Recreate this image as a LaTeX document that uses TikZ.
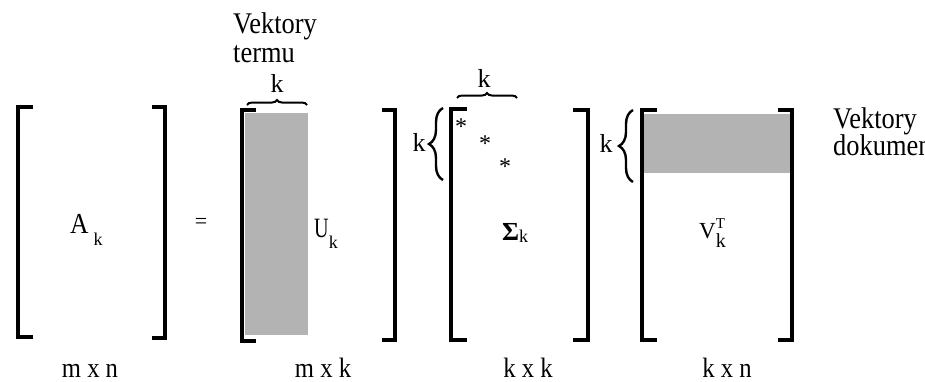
\documentclass[tikz,border=0pt]{standalone}
\usepackage{fontspec}
\setmainfont{Liberation Serif}
\usepackage{graphicx}
\usetikzlibrary{decorations.pathreplacing}
\definecolor{matgray}{RGB}{179,179,179}
\newcommand{\hz}[1]{\scalebox{0.88}[1]{#1}}
\begin{document}
\begin{tikzpicture}[x=1pt,y=-1pt,
  brk/.style={line width=4.5pt, line join=miter, line cap=butt},
  shadebox/.style={fill=matgray, draw=none},
  lbl/.style={inner sep=0pt, anchor=base, text depth=0pt, font=\fontsize{28}{30}\selectfont},
  toplbl/.style={inner sep=0pt, anchor=base west, text height=19pt, text depth=6pt, font=\fontsize{30}{32}\selectfont},
  klbl/.style={inner sep=0pt, anchor=base, font=\fontsize{26}{28}\selectfont},
  starlbl/.style={inner sep=0pt, anchor=base, font=\fontsize{24}{26}\selectfont},
  matlbl/.style={inner sep=0pt, anchor=base west},
  hbrace/.style={decorate, decoration={brace, amplitude=5pt}, line width=2pt},
  vbrace/.style={decorate, decoration={brace, amplitude=14pt}, line width=2.4pt},
]
\useasboundingbox (0,0) rectangle (925,381);
\clip (0,0) rectangle (925,381);

% shaded parts
\fill[shadebox] (245,113) rectangle (308,335);
\fill[shadebox] (644,114) rectangle (790,173);

% brackets: A_k
\draw[brk] (33,107) -- (18,107) -- (18,337) -- (33,337);
\draw[brk] (152,107) -- (165,107) -- (165,338) -- (152,338);
% U_k
\draw[brk] (256,110) -- (242,110) -- (242,341) -- (256,341);
\draw[brk] (382,110) -- (395,110) -- (395,340) -- (382,340);
% Sigma_k
\draw[brk] (467,109) -- (451,109) -- (451,340) -- (467,340);
\draw[brk] (573,110) -- (588,110) -- (588,340) -- (573,340);
% V_k^T
\draw[brk] (657,110) -- (642,110) -- (642,340) -- (657,340);
\draw[brk] (778,110) -- (792,110) -- (792,340) -- (778,340);

% braces
\draw[hbrace] (247,105) -- (307,105);
\draw[hbrace] (457,98) -- (517,98);
\draw[vbrace] (443,180) -- (443,108);
\draw[vbrace] (633,182) -- (633,110);

% k labels
\node[klbl] (k1) at (277,92) {k};
\node[klbl] (k2) at (484,87) {k};
\node[klbl] (k3) at (419,151) {k};
\node[klbl] (k4) at (606,152) {k};

% stars
\node[starlbl] (s1) at (461,134) {*};
\node[starlbl] (s2) at (485,151) {*};
\node[starlbl] (s3) at (505,174) {*};

% matrix labels
\node[matlbl, font=\fontsize{29}{30}\selectfont] (A) at (70,233)
  {\hz{A}\hspace{5pt}\raisebox{-12pt}{\fontsize{18}{18}\selectfont k}};
\node[inner sep=0pt, anchor=base, font=\fontsize{22}{24}\selectfont] (eq) at (201,228.5) {=};
\node[matlbl, font=\fontsize{28}{30}\selectfont] (U) at (314,237)
  {\scalebox{0.72}[1]{U}\raisebox{-11pt}{\fontsize{18}{18}\selectfont k}};
\node[matlbl, font=\fontsize{26}{28}\selectfont\bfseries] (S) at (502,240)
  {Σ\raisebox{-2pt}{\fontsize{18}{18}\selectfont\mdseries k}};
\node[matlbl, font=\fontsize{23}{25}\selectfont] (V) at (699,238)
  {V\rlap{\raisebox{10pt}{\fontsize{15}{15}\selectfont T}}\raisebox{-9pt}{\fontsize{20}{20}\selectfont k}};

% side texts
\node[toplbl] (vt1) at (233,33) {\hz{Vektory}};
\node[toplbl] (vt2) at (233,62) {\hz{termu}};
\node[toplbl] (vd1) at (833,128) {\hz{Vektory}};
\node[toplbl] (vd2) at (833,155) {\hz{dokumen}};

% dimensions
\node[lbl] (d1) at (90,377) {\hz{m x n}};
\node[lbl] (d2) at (323,377) {\hz{m x k}};
\node[lbl] (d3) at (528,377) {\hz{k x k}};
\node[lbl] (d4) at (727,377) {\hz{k x n}};
\end{tikzpicture}
\end{document}
